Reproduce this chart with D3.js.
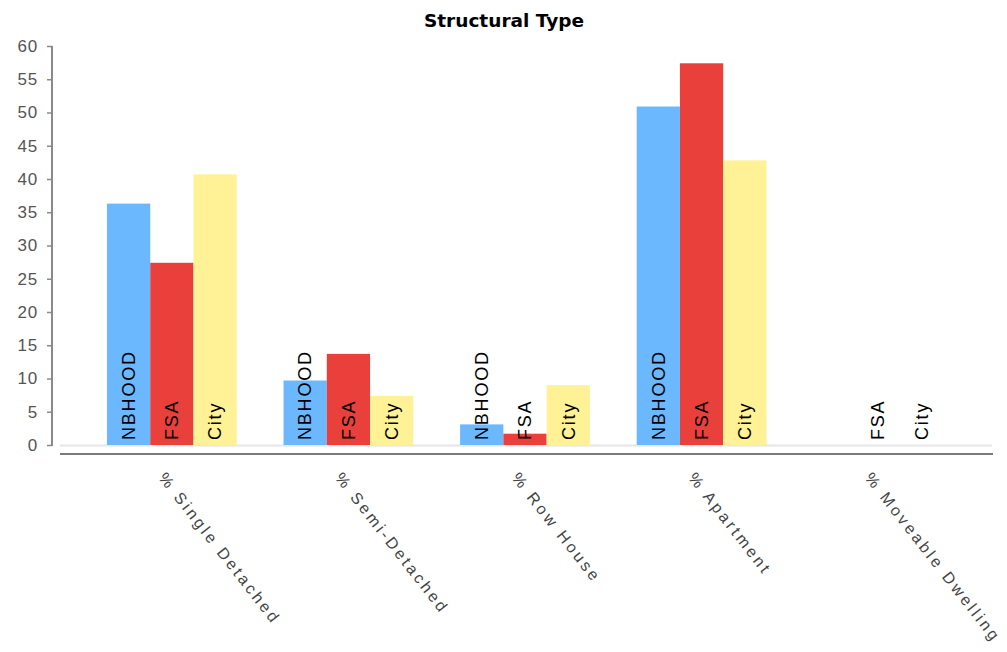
<!DOCTYPE html>
<html>
<head>
<meta charset="utf-8">
<script src="https://cdn.jsdelivr.net/npm/d3@7"></script>
<style>
  html, body { margin: 0; padding: 0; background: #fff; }
  svg { display: block; }
</style>
</head>
<body>
<svg id="chart" width="1007" height="652"></svg>
<script>
// Structural type shares (%) by geography
const categories = ["% Single Detached", "% Semi-Detached", "% Row House", "% Apartment", "% Moveable Dwelling"];
const seriesNames = ["NBHOOD", "FSA", "City"];
const nbhoodValues = [36.3, 9.7, 3.1, 50.9, null];
const fsaValues = [27.4, 13.7, 1.7, 57.4, 0];
const cityValues = [40.7, 7.4, 9.0, 42.8, 0];
const yTicks = [0, 5, 10, 15, 20, 25, 30, 35, 40, 45, 50, 55, 60];

const seriesValues = [nbhoodValues, fsaValues, cityValues];
const colors = ["#6cb8ff", "#e9403b", "#fff296"];

const svg = d3.select("#chart");

const y = d3.scaleLinear().domain([0, 60]).range([445, 46]);
const x0 = d3.scaleBand().domain(categories).range([60, 990]).paddingInner(0.265).paddingOuter(0.266);
const x1 = d3.scaleBand().domain(seriesNames).range([0, x0.bandwidth()]);
const color = d3.scaleOrdinal().domain(seriesNames).range(colors);

// Title
svg.append("text")
  .attr("x", 504)
  .attr("y", 27)
  .attr("text-anchor", "middle")
  .attr("font-family", "DejaVu Sans, Verdana, sans-serif")
  .attr("font-weight", "bold")
  .attr("font-size", 18.5)
  .attr("fill", "#000")
  .text("Structural Type");

// Baselines under the plot
svg.append("line")
  .attr("x1", 60).attr("x2", 992)
  .attr("y1", y(0) + 0.5).attr("y2", y(0) + 0.5)
  .attr("stroke", "#e6e6e6").attr("stroke-width", 2);
svg.append("line")
  .attr("x1", 60).attr("x2", 993)
  .attr("y1", 454).attr("y2", 454)
  .attr("stroke", "#7a7a7a").attr("stroke-width", 2);

// Y axis
const yAxis = svg.append("g")
  .attr("transform", "translate(52,0)")
  .call(d3.axisLeft(y).tickValues(yTicks).tickSize(5).tickSizeOuter(0).tickPadding(9));
yAxis.select(".domain").attr("stroke", "#8a8a8a").attr("stroke-width", 2)
  .attr("d", `M0,${y(60)}V${y(0) + 1}`);
yAxis.selectAll(".tick line").attr("stroke", "#8a8a8a").attr("stroke-width", 1.5);
yAxis.selectAll(".tick text")
  .attr("font-family", "Liberation Sans, Arial, sans-serif")
  .attr("font-size", 17)
  .attr("letter-spacing", "0.8px")
  .attr("fill", "#555");

// Rows of (category, series, value)
const rows = [];
categories.forEach((c, i) => {
  seriesNames.forEach((s, j) => {
    rows.push({ category: c, series: s, value: seriesValues[j][i] });
  });
});

// Bars
svg.append("g")
  .selectAll("rect")
  .data(rows.filter(d => d.value !== null))
  .join("rect")
  .attr("x", d => x0(d.category) + x1(d.series))
  .attr("width", x1.bandwidth())
  .attr("y", d => y(d.value))
  .attr("height", d => y(0) - y(d.value))
  .attr("fill", d => color(d.series));

// Series names written up each bar
svg.append("g")
  .selectAll("text")
  .data(rows.filter(d => d.value !== null))
  .join("text")
  .attr("transform", d => `translate(${x0(d.category) + x1(d.series) + x1.bandwidth() / 2},440) rotate(-90)`)
  .attr("dy", "0.35em")
  .attr("text-anchor", "start")
  .attr("font-family", "Liberation Sans, Arial, sans-serif")
  .attr("font-size", 18)
  .attr("letter-spacing", "1.8px")
  .attr("fill", "#000")
  .text(d => d.series);

// Category labels, slanted
svg.append("g")
  .selectAll("text")
  .data(categories)
  .join("text")
  .attr("transform", d => `translate(${x0(d) + x0.bandwidth() / 2 - 5},471) rotate(52)`)
  .attr("dy", "0.72em")
  .attr("text-anchor", "start")
  .attr("font-family", "Liberation Sans, Arial, sans-serif")
  .attr("font-size", 16)
  .attr("letter-spacing", "3px")
  .attr("fill", "#444")
  .text(d => d);
</script>
</body>
</html>
